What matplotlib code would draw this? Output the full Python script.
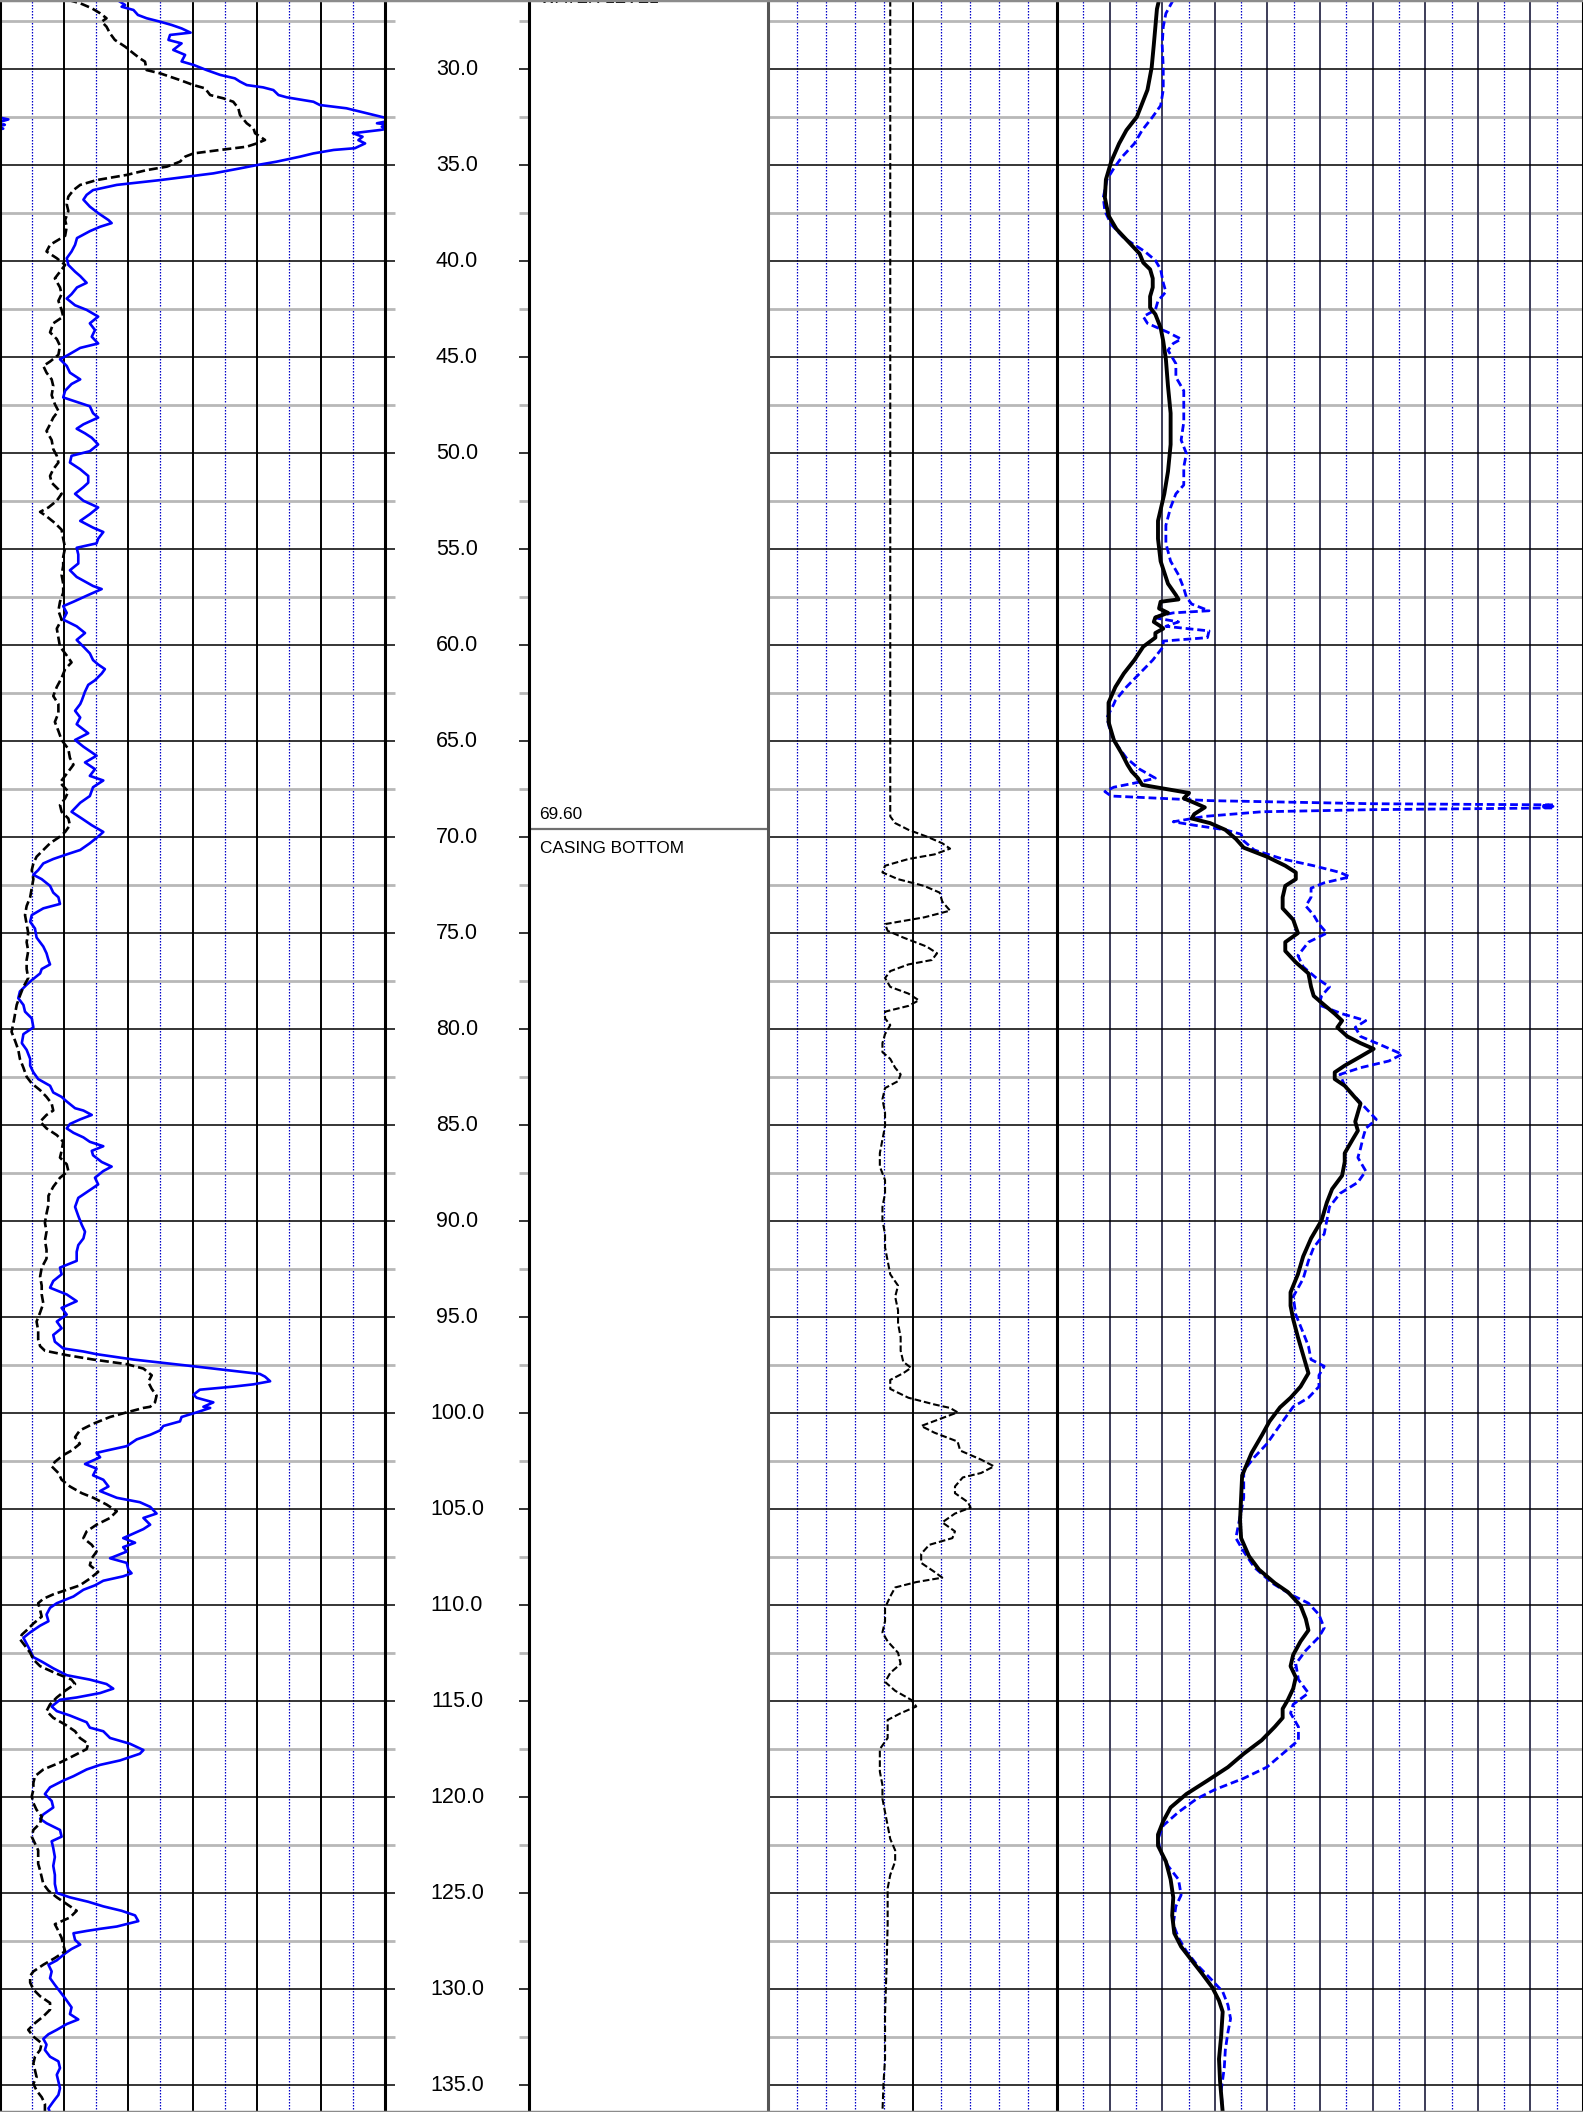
#!/usr/bin/env python3
import matplotlib
matplotlib.use('Agg')
import matplotlib.pyplot as plt
from matplotlib.lines import Line2D

plt.rcParams['font.family'] = ['Liberation Sans', 'DejaVu Sans']

W, H, DPI = 1583, 2112, 100
TOP, BOTTOM = 26.4, 136.4

# depth scale (ft)
DEPTH_MAJOR = [30, 35, 40, 45, 50, 55, 60, 65, 70, 75, 80, 85, 90, 95, 100,
               105, 110, 115, 120, 125, 130, 135]
DEPTH_MINOR = [27.5, 32.5, 37.5, 42.5, 47.5, 52.5, 57.5, 62.5, 67.5, 72.5, 77.5,
               82.5, 87.5, 92.5, 97.5, 102.5, 107.5, 112.5, 117.5, 122.5, 127.5, 132.5]

CASING_DEPTH = 69.60
WATER_LEVEL_DEPTH = 25.33

# track 1: gamma (blue, 0-120) and black dashed curve
GAMMA_DEPTH = [
    26.40, 26.66, 26.75, 26.92, 27.18, 27.35, 27.53, 27.70, 27.88, 28.10, 28.22, 28.48,
    28.66, 29.00, 29.26, 29.60, 29.78, 30.05, 30.30, 30.48, 30.65, 30.83, 30.95, 31.09,
    31.35, 31.47, 31.70, 31.87, 32.04, 32.30, 32.51, 32.62, 32.72, 32.82, 32.90, 33.00,
    33.10, 33.17, 33.34, 33.52, 33.70, 33.87, 34.12, 34.21, 34.39, 34.56, 34.82, 35.00,
    35.17, 35.43, 35.78, 36.03, 36.30, 36.55, 36.80, 37.16, 37.50, 37.86, 38.02, 38.21,
    38.44, 38.80, 39.15, 39.50, 39.85, 40.20, 40.55, 40.78, 41.13, 41.37, 41.72, 41.95,
    42.30, 42.54, 42.89, 43.24, 43.59, 43.94, 44.29, 44.52, 44.88, 45.11, 45.46, 45.81,
    46.16, 46.40, 46.75, 47.10, 47.33, 47.56, 47.92, 48.15, 48.50, 48.73, 48.97, 49.20,
    49.55, 49.90, 50.14, 50.49, 50.84, 51.19, 51.54, 51.77, 52.12, 52.48, 52.83, 53.18,
    53.53, 53.88, 54.11, 54.46, 54.70, 54.93, 55.28, 55.75, 56.10, 56.45, 56.69, 56.92,
    57.08, 57.39, 57.74, 57.97, 58.32, 58.67, 59.02, 59.37, 59.73, 60.08, 60.43, 60.78,
    61.01, 61.25, 61.48, 61.83, 62.07, 62.42, 62.88, 63.07, 63.42, 63.77, 64.12, 64.59,
    64.94, 65.29, 65.76, 66.11, 66.46, 66.81, 67.05, 67.40, 67.86, 68.21, 68.68, 69.03,
    69.38, 69.73, 69.97, 70.32, 70.67, 70.90, 71.14, 71.37, 71.72, 71.96, 72.19, 72.54,
    72.89, 73.13, 73.48, 73.71, 74.06, 74.41, 74.76, 75.23, 75.70, 76.05, 76.40, 76.63,
    76.87, 77.10, 77.45, 77.69, 78.04, 78.39, 78.74, 79.09, 79.44, 79.91, 80.26, 80.73,
    81.08, 81.55, 81.90, 82.25, 82.60, 82.95, 83.30, 83.53, 83.77, 84.12, 84.24, 84.47,
    84.70, 84.94, 85.17, 85.40, 85.64, 85.87, 86.10, 86.34, 86.57, 86.92, 87.16, 87.39,
    87.74, 88.09, 88.44, 88.79, 89.26, 89.73, 90.20, 90.55, 90.90, 91.25, 91.60, 92.07,
    92.42, 92.77, 93.12, 93.47, 93.82, 94.17, 94.52, 94.87, 95.23, 95.58, 95.93, 96.28,
    96.63, 96.79, 96.93, 97.21, 97.56, 97.80, 97.96, 98.10, 98.34, 98.50, 98.62, 98.78,
    99.04, 99.20, 99.44, 99.67, 99.73, 99.96, 100.20, 100.43, 100.67, 100.90, 101.13,
    101.37, 101.72, 101.95, 102.07, 102.30, 102.65, 102.89, 103.24, 103.47, 103.82,
    104.06, 104.41, 104.64, 104.88, 105.23, 105.46, 105.81, 106.04, 106.51, 106.75,
    106.98, 107.21, 107.56, 107.80, 108.15, 108.34, 108.50, 108.73, 108.97, 109.20,
    109.55, 109.90, 110.14, 110.49, 110.84, 111.07, 111.42, 111.70, 112.01, 112.36,
    112.71, 112.94, 113.29, 113.65, 113.88, 114.11, 114.35, 114.58, 114.81, 114.93,
    115.28, 115.52, 115.75, 116.10, 116.38, 116.57, 116.92, 117.22, 117.55, 117.74,
    118.09, 118.32, 118.56, 118.91, 119.14, 119.49, 119.84, 120.20, 120.54, 120.90,
    121.13, 121.36, 121.71, 122.06, 122.30, 122.65, 123.12, 123.58, 124.05, 124.52,
    124.99, 125.22, 125.45, 125.69, 125.92, 126.16, 126.46, 126.74, 126.86, 126.97,
    127.09, 127.44, 127.68, 127.91, 128.14, 128.50, 128.73, 129.08, 129.43, 129.78,
    130.13, 130.48, 130.72, 130.95, 131.30, 131.58, 131.82, 132.12, 132.35, 132.59,
    132.89, 133.17, 133.52, 133.76, 134.11, 134.46, 134.81, 135.16, 135.51, 135.86,
    136.21, 136.40]
GAMMA = [
    36.6, 39.0, 37.9, 41.6, 43.0, 45.7, 49.9, 53.5, 56.6, 59.4, 53.0, 52.5,
    56.6, 54.0, 57.7, 56.6, 60.3, 64.4, 68.6, 73.2, 74.8, 76.9, 82.0, 85.2,
    86.8, 89.4, 97.7, 99.7, 108.0, 114.3, 119.5, 122.6, 120.5, 117.5, 121.5, 119.0,
    121.0, 118.5, 110.0, 113.0, 111.7, 113.8, 110.6, 104.0, 97.7, 93.5, 86.2, 80.0,
    74.8, 66.5, 49.9, 36.4, 29.0, 27.0, 26.0, 28.0, 30.6, 33.8, 34.8, 31.2,
    28.0, 24.0, 23.4, 22.3, 20.8, 21.3, 23.4, 25.0, 27.0, 24.0, 22.3, 20.8,
    23.4, 27.0, 30.6, 28.0, 29.6, 28.6, 30.6, 25.0, 21.3, 18.7, 20.8, 21.8,
    25.0, 22.3, 20.3, 19.7, 23.9, 28.0, 29.0, 30.6, 26.0, 23.9, 26.5, 28.6,
    30.6, 28.0, 22.3, 21.8, 25.0, 27.5, 27.5, 26.0, 23.4, 26.0, 30.6, 28.0,
    25.0, 29.0, 32.2, 30.6, 30.1, 23.9, 24.4, 24.4, 21.8, 23.9, 26.5, 29.0,
    31.7, 27.5, 22.9, 19.7, 20.8, 19.7, 23.9, 26.5, 23.9, 26.0, 28.0, 29.0,
    30.6, 32.7, 31.7, 29.6, 27.5, 26.5, 25.5, 25.0, 23.4, 25.0, 23.9, 27.5,
    23.4, 26.0, 30.1, 26.5, 29.6, 28.0, 32.2, 29.0, 28.0, 25.0, 22.3, 25.5,
    28.6, 32.2, 30.6, 28.0, 25.0, 20.8, 16.6, 13.5, 11.9, 10.4, 13.0, 15.6,
    16.6, 18.2, 18.7, 13.5, 9.9, 9.4, 10.9, 11.4, 13.5, 14.5, 15.1, 15.6,
    13.0, 12.5, 9.9, 8.3, 6.2, 5.7, 7.3, 7.8, 9.9, 10.4, 7.3, 6.8,
    8.3, 9.4, 9.4, 10.4, 11.9, 15.6, 16.6, 19.2, 20.8, 23.4, 26.0, 28.6,
    25.0, 21.8, 20.8, 22.9, 26.0, 28.0, 32.2, 28.6, 29.0, 31.7, 34.8, 32.2,
    29.6, 30.6, 27.5, 24.4, 23.4, 24.4, 25.5, 26.5, 26.0, 24.4, 23.9, 23.9,
    18.7, 19.2, 16.6, 15.6, 20.8, 23.9, 19.2, 20.8, 17.7, 19.2, 16.6, 17.1,
    19.7, 26.0, 30.1, 41.6, 60.3, 72.7, 81.0, 82.6, 84.2, 79.0, 72.7, 62.3,
    60.3, 61.3, 66.5, 63.4, 65.5, 61.3, 56.6, 56.1, 50.9, 49.9, 46.8,
    42.6, 39.5, 33.2, 30.1, 31.2, 26.5, 30.1, 29.0, 32.2, 33.8,
    31.2, 36.4, 43.6, 46.8, 48.8, 44.7, 46.8, 44.7, 38.4, 42.1,
    38.4, 39.5, 34.3, 39.5, 40.0, 41.0, 38.4, 32.2, 29.6, 26.0,
    22.9, 17.7, 15.6, 14.5, 15.1, 12.5, 9.4, 7.3, 8.3, 9.4,
    10.4, 13.0, 16.6, 20.8, 28.0, 33.2, 35.3, 31.2, 23.9, 18.7,
    16.1, 17.7, 21.8, 27.0, 28.0, 32.2, 34.3, 40.5, 44.7, 43.6,
    37.4, 31.2, 27.0, 22.9, 19.7, 15.6, 14.0, 16.1, 16.6, 13.5,
    12.5, 14.5, 18.7, 19.2, 16.1, 16.6, 17.1, 16.6, 17.1, 17.1,
    17.7, 21.8, 27.5, 32.2, 37.9, 42.1, 43.1, 36.4, 31.2, 27.0,
    22.9, 23.4, 25.0, 22.3, 20.3, 17.7, 15.1, 16.1, 15.6, 17.1,
    18.7, 20.3, 21.3, 22.3, 21.8, 24.4, 20.8, 17.7, 15.1, 13.5,
    14.5, 14.0, 15.6, 18.2, 18.7, 17.7, 18.2, 18.7, 18.2, 16.6,
    15.1, 15.5]

SP_DEPTH = [
    26.40, 26.57, 26.83, 27.09, 27.35, 27.53, 27.79, 28.14, 28.48, 28.83, 29.18, 29.44,
    29.61, 30.05, 30.22, 30.57, 30.83, 31.00, 31.35, 31.52, 31.70, 32.04, 32.39, 32.82,
    33.08, 33.34, 33.69, 33.87, 34.04, 34.21, 34.39, 34.56, 34.82, 35.08, 35.26, 35.51,
    35.78, 36.03, 36.30, 36.64, 37.04, 37.39, 37.86, 38.21, 38.68, 39.15, 39.50, 39.85,
    40.20, 40.55, 40.90, 41.37, 41.72, 42.07, 42.54, 42.89, 43.24, 43.71, 44.06, 44.41,
    44.88, 45.23, 45.46, 45.81, 46.16, 46.51, 46.98, 47.45, 47.80, 48.15, 48.50, 48.85,
    49.32, 49.79, 50.14, 50.49, 50.84, 51.19, 51.54, 51.89, 52.12, 52.48, 52.83, 53.06,
    53.29, 53.64, 53.99, 54.46, 54.93, 55.40, 55.87, 56.34, 56.80, 57.27, 57.74, 58.21,
    58.67, 59.14, 59.61, 60.08, 60.54, 60.90, 61.25, 61.71, 62.18, 62.65, 63.07, 63.54,
    64.00, 64.47, 64.94, 65.41, 65.88, 66.23, 66.70, 67.16, 67.63, 67.98, 68.33, 68.68,
    69.03, 69.38, 69.73, 69.97, 70.32, 70.67, 71.02, 71.37, 71.72, 72.19, 72.66, 73.13,
    73.59, 74.06, 74.53, 75.00, 75.47, 75.93, 76.40, 76.87, 77.34, 77.80, 78.27, 78.74,
    79.20, 79.67, 80.14, 80.61, 81.08, 81.55, 82.01, 82.48, 82.83, 83.18, 83.53, 83.88,
    84.24, 84.47, 84.82, 85.17, 85.52, 85.87, 86.34, 86.69, 87.04, 87.39, 87.74, 88.21,
    88.68, 89.15, 89.61, 90.08, 90.55, 91.02, 91.48, 91.95, 92.42, 92.89, 93.36, 93.82,
    94.29, 94.76, 95.23, 95.69, 96.16, 96.51, 96.75, 96.98, 97.21, 97.45, 97.68, 98.03,
    98.38, 98.74, 99.09, 99.44, 99.67, 99.73, 99.96, 100.20, 100.55, 100.90, 101.25,
    101.60, 101.95, 102.19, 102.54, 102.77, 103.12, 103.47, 103.82, 104.17, 104.41,
    104.76, 105.11, 105.46, 105.81, 106.16, 106.51, 106.86, 107.21, 107.56, 107.92,
    108.27, 108.62, 108.97, 109.20, 109.44, 109.67, 109.90, 110.25, 110.60, 110.96,
    111.31, 111.54, 111.77, 112.12, 112.48, 112.83, 113.18, 113.53, 113.88, 114.11,
    114.46, 114.81, 115.17, 115.52, 115.87, 116.22, 116.57, 116.92, 117.22, 117.50,
    117.85, 118.20, 118.56, 118.91, 119.26, 119.61, 119.96, 120.31, 120.66, 121.01,
    121.36, 121.71, 122.06, 122.41, 122.77, 123.12, 123.47, 123.82, 124.17, 124.52,
    124.87, 125.22, 125.57, 125.92, 126.27, 126.62, 126.97, 127.33, 127.68, 128.03,
    128.38, 128.73, 129.08, 129.31, 129.66, 130.02, 130.37, 130.72, 131.07, 131.42,
    131.77, 132.12, 132.47, 132.82, 133.17, 133.52, 133.87, 134.22, 134.58, 134.93,
    135.28, 135.63, 135.98, 136.40]
SP = [
    21.3, 25.0, 28.6, 31.2, 33.2, 31.7, 33.2, 34.3, 35.8, 39.0, 41.6, 43.6,
    45.2, 45.7, 49.9, 56.1, 60.3, 63.9, 65.5, 69.6, 72.7, 74.3, 74.8, 76.9,
    79.0, 79.5, 82.6, 80.0, 76.9, 68.6, 60.3, 57.7, 56.1, 52.0, 45.7, 39.5,
    30.1, 25.0, 22.9, 21.3, 20.8, 21.3, 20.3, 20.8, 20.3, 15.6, 14.5, 17.7,
    20.3, 18.7, 17.1, 18.7, 19.2, 18.2, 19.2, 19.7, 16.6, 15.6, 17.7, 18.7,
    18.2, 15.6, 13.5, 14.5, 16.1, 16.6, 16.1, 17.1, 18.2, 16.6, 15.6, 14.5,
    16.1, 16.6, 17.7, 18.2, 16.6, 15.6, 16.1, 18.2, 19.2, 17.7, 15.1, 12.5,
    14.5, 17.1, 19.2, 19.7, 20.3, 19.7, 19.7, 19.2, 19.7, 19.7, 18.7, 18.2,
    19.2, 17.7, 18.2, 18.7, 20.8, 22.3, 20.3, 19.2, 17.7, 16.6, 18.2, 18.2,
    17.1, 18.2, 19.2, 21.3, 21.8, 22.9, 20.8, 18.7, 21.3, 20.3, 18.7, 19.2,
    21.3, 21.8, 20.3, 18.7, 15.6, 13.5, 11.4, 10.4, 9.9, 10.4, 9.9, 9.4,
    8.3, 7.8, 8.3, 8.8, 8.3, 8.8, 8.3, 8.3, 8.8, 7.3, 6.2, 5.2,
    4.7, 4.2, 3.6, 4.7, 5.7, 6.2, 7.3, 8.3, 9.9, 12.5, 14.5, 16.1,
    16.6, 14.5, 12.5, 14.5, 17.7, 19.7, 19.2, 18.7, 20.8, 21.3, 18.7, 16.6,
    15.1, 15.1, 14.5, 14.0, 14.5, 14.0, 14.5, 14.5, 13.0, 12.5, 13.0, 13.0,
    13.5, 12.5, 11.4, 11.9, 11.9, 12.5, 14.0, 20.8, 29.1, 39.5, 44.7, 47.3,
    46.2, 47.3, 48.8, 48.3, 46.8, 44.7, 39.5, 34.3, 29.1, 24.9, 23.4,
    24.9, 22.3, 19.7, 17.1, 16.1, 18.2, 19.2, 21.8, 25.5, 29.1,
    33.2, 36.4, 34.3, 30.1, 27.0, 26.0, 28.6, 30.1, 28.6, 28.0,
    30.6, 28.0, 24.9, 20.8, 16.6, 13.5, 11.9, 12.5, 13.0, 10.4,
    8.3, 6.8, 6.2, 7.8, 9.4, 10.4, 12.5, 17.1, 22.3, 23.4,
    20.3, 17.7, 15.6, 14.5, 16.6, 20.3, 23.4, 24.9, 27.5, 27.0,
    22.9, 18.7, 13.5, 10.9, 10.4, 10.4, 9.9, 10.4, 11.4, 13.0,
    12.5, 10.4, 9.9, 10.9, 11.9, 11.9, 11.9, 12.5, 13.0, 13.5,
    15.1, 17.7, 20.8, 23.9, 21.8, 17.1, 18.2, 19.2, 19.7, 20.3,
    17.1, 13.5, 10.4, 9.4, 9.4, 10.4, 12.5, 15.6, 15.6, 13.5,
    10.9, 8.8, 10.4, 13.0, 12.5, 10.9, 10.4, 10.9, 11.4, 10.4,
    11.4, 13.0, 14.0, 14.0]

# track 2: caliper (0-100)
CALIPER_DEPTH = [
    26.40, 68.92, 69.27, 69.62, 69.97, 70.32, 70.60, 70.90, 71.14, 71.49, 71.84, 72.19,
    72.54, 72.89, 73.36, 73.83, 74.18, 74.53, 74.88, 75.23, 75.70, 76.05, 76.40, 76.63,
    76.98, 77.34, 77.80, 78.15, 78.50, 78.79, 79.09, 79.44, 79.79, 80.26, 80.73, 81.20,
    81.55, 82.01, 82.36, 82.71, 83.07, 83.65, 84.35, 85.05, 85.75, 86.46, 87.16, 87.86,
    88.56, 89.26, 89.96, 90.67, 91.37, 92.07, 92.77, 93.36, 93.94, 94.64, 95.34, 96.04,
    96.75, 97.33, 97.64, 97.92, 98.27, 98.74, 99.20, 99.55, 99.73, 99.96, 100.31, 100.67,
    101.02, 101.48, 101.95, 102.42, 102.77, 103.12, 103.35, 103.82, 104.17, 104.64,
    104.92, 105.23, 105.69, 106.16, 106.51, 106.86, 107.33, 107.80, 108.27, 108.57,
    108.80, 109.08, 109.55, 110.14, 110.84, 111.42, 111.89, 112.48, 113.06, 113.53,
    114.00, 114.46, 114.93, 115.28, 115.63, 115.98, 116.45, 116.92, 117.50, 118.09,
    118.67, 119.37, 120.08, 120.78, 121.48, 122.18, 122.77, 123.35, 124.05, 124.75,
    126.62, 128.96, 131.30, 133.64, 134.81, 136.40]
CALIPER = [
    42.3, 42.3, 44.0, 48.6, 54.9, 60.3, 63.0, 57.6, 48.6, 40.5, 39.6, 45.0,
    54.0, 59.4, 60.3, 63.0, 54.0, 40.5, 41.4, 46.8, 54.9, 58.5, 56.7, 48.6,
    42.3, 40.5, 42.3, 48.6, 52.2, 48.6, 40.5, 40.5, 42.3, 40.5, 39.6, 39.6,
    42.3, 44.0, 45.9, 45.0, 40.5, 39.6, 40.5, 40.5, 39.6, 38.7, 38.7, 40.5,
    40.5, 39.6, 39.6, 40.5, 40.5, 41.4, 42.3, 45.0, 44.0, 45.0, 45.0, 45.9,
    45.9, 46.8, 49.5, 46.8, 42.3, 42.3, 48.6, 57.6, 63.0, 65.6, 59.4, 53.0,
    57.6, 65.6, 66.5, 73.7, 78.2, 73.7, 67.4, 64.7, 64.7, 69.2,
    70.1, 64.7, 60.3, 64.7, 63.8, 55.8, 53.0, 53.0, 57.6, 60.3,
    51.3, 44.0, 42.3, 40.5, 40.5, 39.6, 41.4, 45.0, 45.9, 42.3,
    40.5, 44.0, 49.5, 51.3, 45.9, 41.4, 41.4, 41.4, 38.7, 38.7,
    38.7, 39.6, 39.6, 40.5, 41.4, 42.3, 44.0, 44.0, 42.3, 41.4,
    41.4, 41.0, 40.5, 40.5, 40.0, 39.6]

# track 3: short normal (black) and long normal (blue dashed), 0-100
SN_DEPTH = [
    26.40, 26.87, 28.74, 29.91, 31.08, 32.48, 33.18, 33.88, 34.82, 35.75, 36.69, 37.63,
    38.33, 39.03, 39.61, 40.08, 40.43, 40.90, 41.37, 41.84, 42.42, 42.77, 43.47, 44.17,
    45.11, 46.51, 47.92, 49.55, 50.96, 52.12, 53.53, 54.46, 55.63, 56.80, 57.39, 57.62,
    57.74, 58.09, 58.32, 58.56, 58.79, 59.02, 59.14, 59.37, 59.61, 60.08, 60.78, 61.48,
    62.18, 63.00, 64.00, 64.94, 65.64, 66.23, 66.58, 66.93, 67.28, 67.51, 67.70, 67.98,
    68.21, 68.45, 68.80, 69.03, 69.27, 69.62, 70.09, 70.55, 71.02, 71.49, 71.84, 72.19,
    72.54, 73.13, 73.71, 74.30, 75.00, 75.47, 75.93, 76.52, 77.10, 77.80, 78.27, 78.74,
    79.20, 79.56, 79.91, 80.38, 80.73, 81.03, 81.43, 81.90, 82.25, 82.60, 82.95, 83.42,
    83.88, 84.35, 84.82, 85.29, 85.75, 86.46, 86.92, 87.63, 88.33, 89.03, 89.96, 90.90,
    91.84, 92.77, 93.71, 94.41, 95.11, 96.04, 96.98, 97.92, 98.62, 99.20, 99.70, 100.43,
    101.13, 102.07, 103.24, 104.41, 105.58, 106.51, 107.45, 108.15, 108.85, 109.32,
    110.02, 110.72, 111.31, 111.89, 112.59, 113.18, 113.76, 114.35, 114.93, 115.40,
    115.87, 116.34, 117.04, 117.74, 118.44, 119.14, 119.84, 120.54, 121.25, 121.95,
    122.53, 123.35, 124.29, 125.22, 126.16, 127.09, 127.79, 128.50, 129.20, 129.90,
    130.60, 131.18, 132.47, 133.64, 134.81, 136.40]
SN = [
    19.4, 19.0, 18.4, 18.0, 17.2, 15.2, 13.2, 11.8, 10.3, 9.3, 9.1, 9.8,
    11.3, 13.7, 15.7, 16.4, 17.7, 18.2, 18.2, 17.7, 17.7, 18.7, 19.7, 20.2,
    20.7, 21.1, 21.6, 21.6, 21.1, 20.4, 19.2, 19.2, 19.7, 21.1, 22.6, 23.1,
    19.7, 19.4, 21.1, 18.7, 18.4, 19.7, 20.2, 18.7, 18.7, 16.4, 14.7, 12.7,
    11.1, 9.8, 9.8, 10.8, 12.3, 13.4, 14.2, 15.4, 16.2, 21.1, 25.1, 24.1,
    26.1, 28.1, 26.1, 25.6, 29.1, 32.0, 34.0, 35.5, 39.9, 43.4, 45.4, 45.4,
    43.4, 42.9, 42.9, 44.9, 45.8, 43.4, 43.4, 45.4, 47.8, 48.3, 48.8, 50.8,
    52.8, 54.2, 53.3, 55.2, 57.7, 60.2, 57.7, 54.7, 52.8, 52.8, 54.7, 56.2,
    57.7, 57.2, 56.7, 57.2, 56.2, 54.7, 54.7, 54.2, 52.3, 51.3, 50.3, 48.3,
    46.8, 45.8, 44.4, 44.4, 44.9, 45.8, 46.8, 47.8, 46.3, 44.4, 42.4, 40.4,
    39.0, 37.0, 35.2, 35.0, 34.8, 35.0, 36.5, 38.4, 41.4, 43.9,
    46.3, 47.3, 47.8, 46.3, 44.9, 44.4, 45.4, 44.9, 43.9, 42.9,
    42.9, 41.4, 38.9, 35.5, 32.5, 28.6, 24.6, 21.6, 20.2, 19.2,
    19.2, 20.7, 21.6, 22.1, 21.9, 22.3, 23.6, 25.6, 27.6, 29.5,
    30.8, 31.5, 31.2, 30.8, 31.0, 31.5]

LN_DEPTH = [
    26.40, 27.10, 27.80, 28.74, 29.91, 31.08, 31.90, 32.48, 33.18, 33.88, 34.59, 35.17,
    35.75, 36.69, 37.39, 38.09, 38.79, 39.50, 39.96, 40.43, 41.13, 41.60, 42.07, 42.54,
    42.89, 43.24, 43.71, 44.06, 44.29, 44.64, 45.34, 46.04, 46.75, 47.45, 48.38, 49.32,
    50.02, 50.72, 51.66, 52.12, 52.83, 53.76, 54.70, 55.63, 56.34, 57.04, 57.50, 57.86,
    58.21, 58.32, 58.56, 58.79, 59.02, 59.26, 59.61, 59.79, 60.08, 60.78, 61.48, 62.18,
    62.88, 63.07, 63.77, 64.47, 65.17, 65.88, 66.46, 66.93, 67.16, 67.40, 67.63, 67.86,
    68.10, 68.26, 68.32, 68.36, 68.40, 68.44, 68.48, 68.57, 68.68, 68.92, 69.20, 69.38,
    69.62, 69.85, 70.20, 70.67, 71.14, 71.49, 71.84, 72.07, 72.38, 72.66, 73.13, 73.59,
    74.06, 74.53, 75.00, 75.47, 76.17, 76.75, 77.34, 77.80, 78.27, 78.74, 79.20, 79.56,
    79.91, 80.38, 80.84, 81.31, 81.66, 82.01, 82.36, 82.95, 83.53, 84.12, 84.70, 85.17,
    85.64, 86.22, 86.69, 87.39, 87.98, 88.56, 89.26, 89.96, 90.67, 91.37, 92.07, 93.00,
    93.94, 94.87, 95.81, 96.51, 97.21, 97.56, 98.03, 98.62, 99.20, 99.67, 100.43, 101.60,
    102.30, 103.00, 104.41, 105.81, 106.51, 107.21, 108.03, 108.85, 109.44, 109.90,
    110.49, 111.19, 111.66, 112.36, 113.06, 113.88, 114.58, 115.17, 115.63, 116.34,
    117.04, 117.74, 118.44, 119.02, 119.61, 120.08, 120.78, 121.48, 122.18, 122.88,
    123.58, 124.29, 125.10, 125.69, 126.62, 127.33, 128.03, 128.73, 129.43, 130.13,
    130.83, 131.54, 132.24, 133.17, 134.11, 135.28, 136.40]
LN = [
    22.1, 20.7, 20.2, 20.0, 20.2, 20.2, 19.7, 18.2, 16.2, 14.7, 12.3, 10.8,
    9.5, 8.8, 9.1, 10.3, 12.7, 16.7, 18.7, 19.7, 20.2, 20.7, 19.2, 18.7,
    16.4, 17.2, 21.1, 23.6, 22.1, 21.1, 22.6, 22.6, 24.1, 24.1, 24.1, 23.6,
    24.6, 24.1, 24.1, 22.6, 21.6, 20.7, 20.7, 21.6, 23.1, 24.1, 24.6, 25.6,
    28.9, 22.1, 18.2, 23.1, 20.7, 28.9, 28.6, 20.2, 20.2, 18.2, 15.7, 13.2,
    11.1, 10.8, 9.5, 10.1, 11.3, 13.2, 15.7, 18.7, 15.2, 10.8, 9.1, 10.3,
    29.1, 59.7, 94.3, 92.5, 94.3, 92.5, 94.3, 59.7, 38.9, 28.1, 22.1, 26.1,
    32.0, 35.0, 35.5, 37.5, 42.9, 48.8, 53.8, 55.7, 50.8, 48.3, 48.3, 47.3,
    48.8, 49.8, 51.3, 47.8, 45.8, 46.8, 49.3, 51.8, 50.3, 49.8, 54.2, 58.7,
    56.7, 57.7, 61.7, 65.6, 63.1, 57.7, 53.8, 54.7, 56.7, 58.7, 60.7, 58.7,
    58.2, 57.7, 57.2, 58.7, 57.2, 53.8, 51.8, 51.3, 50.8, 48.8, 47.8, 46.8,
    44.9, 45.4, 46.8, 47.8, 48.3, 50.8, 49.8, 49.8, 47.8, 44.9, 42.9, 39.9,
    37.5, 35.5, 35.5, 34.5, 34.0, 35.5, 37.5, 40.9, 44.4, 47.8,
    49.8, 50.8, 49.8, 47.3, 45.4, 45.9, 47.8, 44.9, 44.4, 45.9,
    45.9, 42.9, 39.9, 35.5, 30.0, 26.6, 23.1, 20.2, 19.2, 19.7,
    21.1, 23.1, 23.6, 22.6, 22.1, 23.1, 24.6, 26.6, 29.1, 31.5,
    32.5, 33.0, 32.5, 32.0, 31.8, 31.2, 31.5]

BLUE_GRID = '#0000c8'


def add_track(fig, x0, x1, xmax, major, minor, major_color):
    ax = fig.add_axes([x0 / W, 0, (x1 - x0) / W, 1])
    ax.set_xlim(0, xmax)
    ax.set_ylim(BOTTOM, TOP)
    ax.set_xticks([])
    ax.set_yticks([])
    for s in ax.spines.values():
        s.set_visible(False)
    for x in minor:
        ax.axvline(x, color=BLUE_GRID, lw=0.9, ls=(0, (1.2, 1.2)), zorder=1)
    for x in major:
        ax.axvline(x, color=major_color, lw=1.4, zorder=1.2)
    for d in DEPTH_MINOR:
        ax.axhline(d, color='#b8b8b8', lw=2.0, zorder=1.1)
    for d in DEPTH_MAJOR:
        ax.axhline(d, color='black', lw=1.1, zorder=1.3)
    return ax


def main():
    fig = plt.figure(figsize=(W / DPI, H / DPI), dpi=DPI)

    # track 1
    ax1 = add_track(fig, 0, 385, 120, [20, 40, 60, 80, 100],
                    [10, 30, 50, 70, 90, 110], 'black')
    ax1.plot(GAMMA, GAMMA_DEPTH, color='#0000ff', lw=1.9, zorder=3)
    # values above full scale wrap back to the left edge
    ax1.plot([v - 120 for v in GAMMA], GAMMA_DEPTH, color='#0000ff', lw=1.9, zorder=3)
    ax1.plot(SP, SP_DEPTH, color='black', lw=1.9, ls=(0, (3.4, 1.5)), zorder=4)

    # depth column
    axd = fig.add_axes([385 / W, 0, 144 / W, 1])
    axd.set_ylim(BOTTOM, TOP)
    axd.set_xticks([])
    for s in axd.spines.values():
        s.set_visible(False)
    axd.yaxis.set_ticks_position('both')
    axd.set_yticks(DEPTH_MAJOR)
    axd.set_yticks(DEPTH_MINOR, minor=True)
    axd.tick_params(which='major', direction='in', length=7.2, width=1.1,
                    color='black', labelleft=False, labelright=False)
    axd.tick_params(which='minor', direction='in', length=7.2, width=2.0,
                    color='#b8b8b8')
    for d in DEPTH_MAJOR:
        axd.text(0.5, d, f'{d:.1f}', transform=axd.get_yaxis_transform(),
                 ha='center', va='center', fontsize=15.5)

    # annotation column
    axa = fig.add_axes([529 / W, 0, 239 / W, 1])
    axa.set_ylim(BOTTOM, TOP)
    axa.set_xlim(0, 1)
    axa.set_xticks([])
    axa.set_yticks([])
    for s in axa.spines.values():
        s.set_visible(False)
    axa.axhline(WATER_LEVEL_DEPTH, color='#707070', lw=1.6)
    axa.text(0.044, WATER_LEVEL_DEPTH + 1.23, 'WATER LEVEL', fontsize=12.4, va='baseline')
    axa.axhline(CASING_DEPTH, color='#707070', lw=1.6)
    axa.text(0.044, CASING_DEPTH - 0.54, f'{CASING_DEPTH:.2f}', fontsize=12.4, va='baseline')
    axa.text(0.044, CASING_DEPTH + 1.23, 'CASING BOTTOM', fontsize=12.4, va='baseline')

    # track 2
    ax2 = add_track(fig, 768, 1057, 100, [50],
                    [10, 20, 30, 40, 60, 70, 80, 90], 'black')
    ax2.plot(CALIPER, CALIPER_DEPTH, color='black', lw=1.5, ls=(0, (3.2, 1.4)), zorder=4)

    # track 3
    ax3 = add_track(fig, 1057, 1583, 100, [10, 20, 30, 40, 50, 60, 70, 80, 90],
                    [5, 15, 25, 35, 45, 55, 65, 75, 85, 95], '#3c3c58')
    ax3.plot(LN, LN_DEPTH, color='#0000ff', lw=2.0, ls=(0, (2.8, 1.4)), zorder=3)
    ax3.plot(SN, SN_DEPTH, color='black', lw=2.8, zorder=4)

    # borders
    for x, c in [(0, 'black'), (385, 'black'), (529, 'black'), (768, '#555555'),
                 (1057, 'black'), (1583, 'black')]:
        fig.add_artist(Line2D([x / W, x / W], [0, 1], color=c, lw=2.2,
                              transform=fig.transFigure))
    for y in (0, 1):
        fig.add_artist(Line2D([0, 1], [y, y], color='#8c8c8c', lw=2.5,
                              transform=fig.transFigure))

    fig.savefig('out.png', dpi=DPI)


if __name__ == '__main__':
    main()
